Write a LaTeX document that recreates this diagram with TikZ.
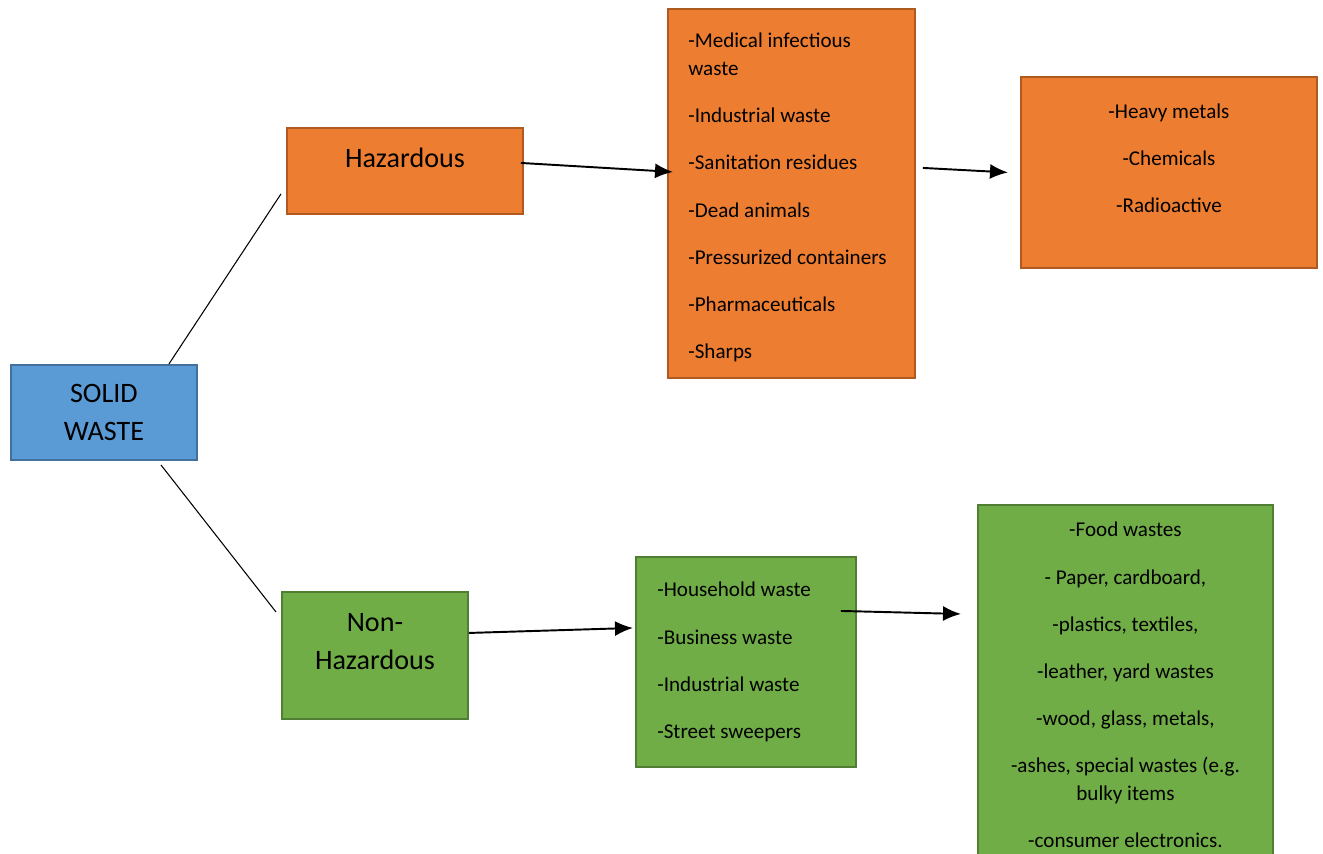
\documentclass[tikz,border=0pt]{standalone}
\usepackage{fontspec}
\setmainfont{Carlito}
\usetikzlibrary{arrows.meta}
\definecolor{solidfill}{HTML}{5B9BD5}
\definecolor{solidline}{HTML}{41719C}
\definecolor{hazfill}{HTML}{ED7D31}
\definecolor{hazline}{HTML}{AE5A21}
\definecolor{nonhazfill}{HTML}{70AD47}
\definecolor{nonhazline}{HTML}{507E32}
\begin{document}
\begin{tikzpicture}[x=0.02cm,y=-0.02cm,
	box/.style={draw, line width=1.1pt, inner sep=0pt, anchor=north west},
	solid box/.style={box, fill=solidfill, draw=solidline},
	haz box/.style={box, fill=hazfill, draw=hazline},
	nonhaz box/.style={box, fill=nonhazfill, draw=nonhazline},
	big text/.style={font=\fontsize{16}{21.5}\selectfont, align=center, inner sep=0pt},
	list text/.style={font=\fontsize{12}{16}\selectfont, inner sep=0pt},
	link/.style={line width=0.6pt},
	arrow/.style={-{Latex[length=0.36cm,width=0.3cm]}, line width=1.1pt}]
	
	\clip (0,0) rectangle (1323,854);
	
	% Boxes
	\node[solid box, minimum width=3.72cm, minimum height=1.9cm] (solid) at (10,364) {};
	\node[haz box, minimum width=4.72cm, minimum height=1.72cm] (haz) at (286,127) {};
	\node[nonhaz box, minimum width=3.72cm, minimum height=2.54cm] (nonhaz) at (281,591) {};
	\node[haz box, minimum width=4.94cm, minimum height=7.38cm] (hazlist) at (667,8) {};
	\node[haz box, minimum width=5.92cm, minimum height=3.82cm] (haztypes) at (1020,76) {};
	\node[nonhaz box, minimum width=4.4cm, minimum height=4.2cm] (nhlist) at (635,556) {};
	\node[nonhaz box, minimum width=5.9cm, minimum height=8cm] (nhtypes) at (977,504) {};
	
	% Texts
	\node[big text] (solidtext) at (solid.center) {SOLID\\WASTE};
	\node[big text] (haztext) at ([yshift=0.26cm]haz.center) {Hazardous};
	\node[big text] (nonhaztext) at ([yshift=0.28cm]nonhaz.center) {Non-\\Hazardous};
	
	\node[list text, align=left, anchor=west] (hazlisttext) at ([xshift=0.42cm, yshift=-0.08cm]hazlist.west)
	{-Medical infectious\\waste\\[0.38cm]
	-Industrial waste\\[0.38cm]
	-Sanitation residues\\[0.38cm]
	-Dead animals\\[0.38cm]
	-Pressurized containers\\[0.38cm]
	-Pharmaceuticals\\[0.38cm]
	-Sharps};
	
	\node[list text, align=center] (haztypestext) at ([yshift=0.28cm]haztypes.center)
	{-Heavy metals\\[0.38cm]
	-Chemicals\\[0.38cm]
	-Radioactive};
	
	\node[list text, align=left, anchor=west] (nhlisttext) at ([xshift=0.44cm]nhlist.west)
	{-Household waste\\[0.38cm]
	-Business waste\\[0.38cm]
	-Industrial waste\\[0.38cm]
	-Street sweepers};
	
	\node[list text, align=center, anchor=north] (nhtypestext) at ([yshift=-0.36cm]nhtypes.north)
	{-Food wastes\\[0.38cm]
	- Paper, cardboard,\\[0.38cm]
	-plastics, textiles,\\[0.38cm]
	-leather, yard wastes\\[0.38cm]
	-wood, glass, metals,\\[0.38cm]
	-ashes, special wastes (e.g.\\bulky items\\[0.38cm]
	-consumer electronics.};
	
	% Connectors
	\draw[link] ([xshift=1.3cm]solid.north) -- ([xshift=-0.1cm, yshift=0.42cm]haz.south west);
	\draw[link] ([xshift=1.14cm, yshift=-0.08cm]solid.south) -- ([xshift=-0.1cm, yshift=-0.42cm]nonhaz.north west);
	
	\draw[arrow] ([xshift=-0.06cm, yshift=0.16cm]haz.east) -- ([xshift=0.12cm, yshift=0.43cm]hazlist.west);
	\draw[arrow] ([xshift=0.14cm, yshift=0.51cm]hazlist.east) -- ([xshift=-0.24cm]haztypes.west);
	\draw[arrow] ([yshift=0.45cm]nonhaz.east) -- ([xshift=-0.04cm, yshift=0.68cm]nhlist.west);
	\draw[arrow] ([xshift=-0.32cm, yshift=1.02cm]nhlist.east) -- ([xshift=-0.32cm, yshift=-2.2cm]nhtypes.north west);
	
\end{tikzpicture}
\end{document}
